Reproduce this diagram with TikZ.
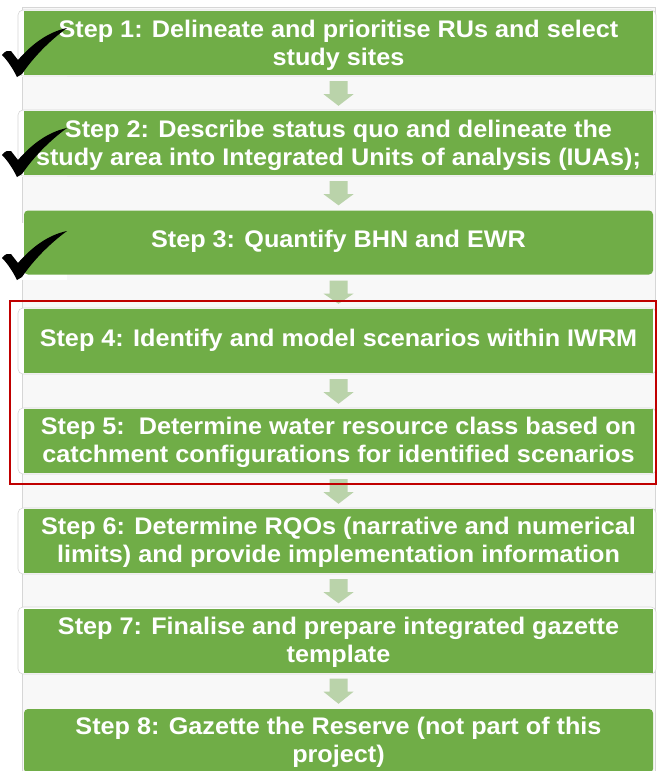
\documentclass[tikz,border=0pt]{standalone}
\usepackage{fontspec}
\setmainfont[FakeStretch=1.05]{Liberation Sans}
\usetikzlibrary{calc}
\definecolor{boxgreen}{HTML}{70AD47}
\definecolor{arrgreen}{HTML}{BAD3AA}
\definecolor{panelgray}{HTML}{F8F8F8}
\definecolor{panelline}{HTML}{D6D6D6}
\definecolor{redline}{HTML}{C00000}
\tikzset{
  stepbox/.style={fill=boxgreen, minimum width=629pt, minimum height=64pt, inner sep=0pt},
  roundbox/.style={stepbox, rounded corners=4pt},
  steptext/.style={text=white, font=\fontsize{24}{28}\selectfont\bfseries, align=center, inner sep=0pt},
  outlinebox/.style={draw=panelline, fill=white, rounded corners=5pt, line width=0.6pt},
  blockarrow/.style={fill=arrgreen},
  tickmark/.style={fill=black},
  redframe/.style={draw=redline, line width=2pt}
}
\newcommand\blkarrow[2]{%
  \fill[blockarrow] ($(#1.south)+(-9,6)$) -- ($(#1.south)+(-9,19)$) -- ($(#1.south)+(-15,19)$)
   -- ($(#2.north)+(0,-5)$) -- ($(#1.south)+(15,19)$) -- ($(#1.south)+(9,19)$)
   -- ($(#1.south)+(9,6)$) -- cycle;}
\newcommand\tickback[1]{\fill[white,shift={(0,#1)}] (0,20) rectangle (67,77);}
\newcommand\tickdraw[1]{%
  \fill[tickmark,shift={(0,#1)}] (2,55) .. controls (5,51) and (8,50) .. (11,51)
   -- (18,60) .. controls (32,44) and (48,32) .. (67,28)
   .. controls (48,42) and (33,58) .. (22,74) -- (17,77)
   .. controls (12,67) and (7,60) .. (2,55) -- cycle;}
\begin{document}
\begin{tikzpicture}[x=1pt,y=-1pt]
\useasboundingbox (0,0) rectangle (657,771);
\clip (0,0) rectangle (657,771);
\fill[white] (0,0) rectangle (657,771);
% panel
\draw[draw=panelline, fill=panelgray, line width=0.6pt] (22.7,7) rectangle (655.5,780);
% white backgrounds of the ticks
\tickback{0}
\tickback{100}
\tickback{203}
% outlines behind square boxes
\draw[outlinebox] (18,10) rectangle (656,76);
\draw[outlinebox] (18,110) rectangle (656,176);
\draw[outlinebox] (18,308) rectangle (656,374);
\draw[outlinebox] (18,408) rectangle (656,474);
\draw[outlinebox] (18,508) rectangle (656,574);
\draw[outlinebox] (18,607) rectangle (656,674);
% step boxes
\node[stepbox]  (s1) at (338.5,43)    {};
\node[stepbox]  (s2) at (338.5,143)   {};
\node[roundbox] (s3) at (338.5,242.5) {};
\node[stepbox]  (s4) at (338.5,341)   {};
\node[stepbox]  (s5) at (338.5,441)   {};
\node[stepbox]  (s6) at (338.5,541)   {};
\node[stepbox]  (s7) at (338.5,640.5) {};
\node[roundbox] (s8) at (338.5,741)   {};
% step texts
\node[steptext] (t1) at ($(s1.center)+(0,2)$) {Step 1: Delineate and prioritise RUs and select\\study sites};
\node[steptext] (t2) at ($(s2.center)+(0,2)$) {Step 2: Describe status quo and delineate the\\study area into Integrated Units of analysis (IUAs);};
\node[steptext] (t3) at ($(s3.center)+(0,-1)$) {Step 3: Quantify BHN and EWR};
\node[steptext] (t4) at ($(s4.center)+(0,-1)$) {Step 4: Identify and model scenarios within IWRM};
\node[steptext] (t5) at ($(s5.center)+(0,1)$) {Step 5:\ \ Determine water resource class based on\\catchment configurations for identified scenarios};
\node[steptext] (t6) at ($(s6.center)+(0,1)$) {Step 6: Determine RQOs (narrative and numerical\\limits) and provide implementation information};
\node[steptext] (t7) at ($(s7.center)+(0,2)$) {Step 7: Finalise and prepare integrated gazette\\template};
\node[steptext] (t8) at ($(s8.center)+(0,1)$) {Step 8: Gazette the Reserve (not part of this\\project)};
% arrows
\blkarrow{s1}{s2}
\blkarrow{s2}{s3}
\blkarrow{s3}{s4}
\blkarrow{s4}{s5}
\blkarrow{s5}{s6}
\blkarrow{s6}{s7}
\blkarrow{s7}{s8}
% red frame
\draw[redframe] (10,301) rectangle (656,484);
% ticks
\tickdraw{0}
\tickdraw{100}
\tickdraw{203}
\end{tikzpicture}
\end{document}
